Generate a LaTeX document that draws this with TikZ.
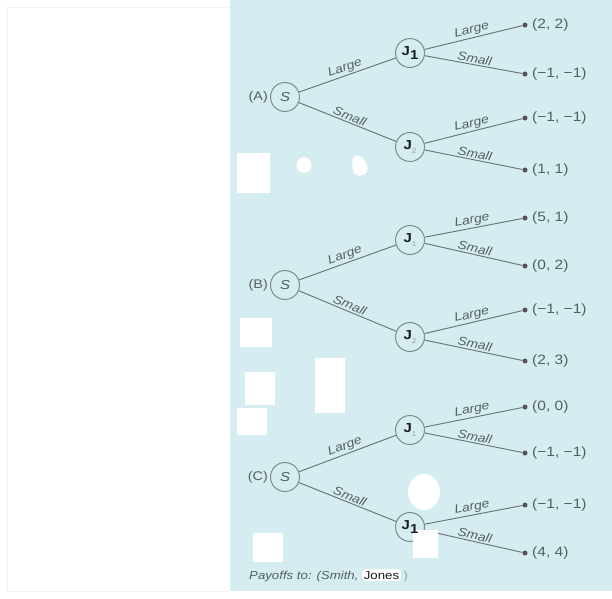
\documentclass[tikz,border=0pt]{standalone}
\usepackage{fontspec}
\setsansfont{Liberation Sans}[FakeStretch=1.15]
\renewcommand\familydefault{\sfdefault}
\definecolor{panel}{RGB}{213,236,240}
\definecolor{edgec}{RGB}{105,118,121}
\definecolor{txt}{RGB}{85,95,98}
\definecolor{dark}{RGB}{25,27,29}
\newcommand\jbig[1]{\textbf{J}\raisebox{-0.6ex}{\bfseries #1}}
\newcommand\jsml[1]{\textbf{J}\raisebox{-0.5ex}{\scriptsize\color{txt!60} #1}}
\begin{document}
\begin{tikzpicture}[x=1pt,y=-1pt,
 every node/.style={font=\sffamily},
 dec/.style={circle,draw=edgec!85,line width=1pt,minimum size=29pt,inner sep=0pt,
   font=\sffamily\fontsize{13}{15}\selectfont,text=dark},
 br/.style={draw=edgec,line width=0.95pt},
 lab/.style={font=\sffamily\itshape\fontsize{12}{14}\selectfont,text=txt,sloped,above,midway,inner sep=1.5pt},
 leaf/.style={circle,fill=dark!75,inner sep=0pt,minimum size=5pt},
 pay/.style={font=\sffamily\fontsize{13.5}{15}\selectfont,text=txt,anchor=west,inner sep=0pt},
 tag/.style={font=\sffamily\fontsize{12.5}{14}\selectfont,text=txt,anchor=east,inner sep=1pt},
 patch/.style={fill=white,draw=none}]
\useasboundingbox (0,0) rectangle (612,598);
\fill[white] (0,0) rectangle (612,598);
\fill[panel] (230,0) rectangle (612,591);
\draw[black!5] (230,7) -- (7,7) -- (7,591) -- (230,591);

% ---------- (A)
\node[dec] (As) at (285,97) {\color{txt}\itshape S};
\node[tag] (Al) at ([xshift=-1pt]As.west) {(A)};
\node[dec] (Aj1) at (410,53) {\jbig{1}};
\node[dec] (Aj2) at (410,147) {\jsml{2}};
\node[leaf] (Aa) at (525,25) {};
\node[leaf] (Ab) at (525,74) {};
\node[leaf] (Ac) at (525,118) {};
\node[leaf] (Ad) at (525,170) {};
\node[pay] (Aap) at (532,25) {(2,\ 2)};
\node[pay] (Abp) at (532,74) {(\textminus1,\ \textminus1)};
\node[pay] (Acp) at (532,118) {(\textminus1,\ \textminus1)};
\node[pay] (Adp) at (532,170) {(1,\ 1)};
\draw[br] (As) -- node[lab]{Large} (Aj1);
\draw[br] (As) -- node[lab]{Small} (Aj2);
\draw[br] (Aj1) -- node[lab]{Large} (Aa);
\draw[br] (Aj1) -- node[lab]{Small} (Ab);
\draw[br] (Aj2) -- node[lab]{Large} (Ac);
\draw[br] (Aj2) -- node[lab]{Small} (Ad);

% ---------- (B)
\node[dec] (Bs) at (285,285) {\color{txt}\itshape S};
\node[tag] (Bl) at ([xshift=-1pt]Bs.west) {(B)};
\node[dec] (Bj1) at (410,240) {\jsml{1}};
\node[dec] (Bj2) at (410,337) {\jsml{2}};
\node[leaf] (Ba) at (525,218) {};
\node[leaf] (Bb) at (525,266) {};
\node[leaf] (Bc) at (525,310) {};
\node[leaf] (Bd) at (525,361) {};
\node[pay] (Bap) at (532,218) {(5,\ 1)};
\node[pay] (Bbp) at (532,266) {(0,\ 2)};
\node[pay] (Bcp) at (532,310) {(\textminus1,\ \textminus1)};
\node[pay] (Bdp) at (532,361) {(2,\ 3)};
\draw[br] (Bs) -- node[lab]{Large} (Bj1);
\draw[br] (Bs) -- node[lab]{Small} (Bj2);
\draw[br] (Bj1) -- node[lab]{Large} (Ba);
\draw[br] (Bj1) -- node[lab]{Small} (Bb);
\draw[br] (Bj2) -- node[lab]{Large} (Bc);
\draw[br] (Bj2) -- node[lab]{Small} (Bd);

% ---------- (C)
\node[dec] (Cs) at (285,477) {\color{txt}\itshape S};
\node[tag] (Cl) at ([xshift=-1pt]Cs.west) {(C)};
\node[dec] (Cj1) at (410,430) {\jsml{1}};
\node[dec] (Cj2) at (410,527) {};
\node[leaf] (Ca) at (525,407) {};
\node[leaf] (Cb) at (525,453) {};
\node[leaf] (Cc) at (525,505) {};
\node[leaf] (Cd) at (525,553) {};
\node[pay] (Cap) at (532,407) {(0,\ 0)};
\node[pay] (Cbp) at (532,453) {(\textminus1,\ \textminus1)};
\node[pay] (Ccp) at (532,505) {(\textminus1,\ \textminus1)};
\node[pay] (Cdp) at (532,553) {(4,\ 4)};
\draw[br] (Cs) -- node[lab]{Large} (Cj1);
\draw[br] (Cs) -- node[lab]{Small} (Cj2);
\draw[br] (Cj1) -- node[lab]{Large} (Ca);
\draw[br] (Cj1) -- node[lab]{Small} (Cb);
\draw[br] (Cj2) -- node[lab]{Large} (Cc);
\draw[br] (Cj2) -- node[lab]{Small} (Cd);

% ---------- white patches
\fill[patch] (237,153) rectangle (270,193);
\fill[patch] (304,165) ellipse (7.5 and 8);
\fill[patch, rounded corners=5pt] (352,155) -- (362,156) -- (369,168) -- (365,176) -- (353,175) -- cycle;
\fill[patch] (240,318) rectangle (272,347);
\fill[patch] (245,372) rectangle (275,405);
\fill[patch] (315,358) rectangle (345,413);
\fill[patch] (237,408) rectangle (267,435);
\fill[patch] (424,492) ellipse (16 and 18);
\fill[patch] (413,530) rectangle (438,558);
\fill[patch] (253,533) rectangle (283,562);
\node[font=\sffamily\fontsize{13}{15}\selectfont,text=dark] (Cj2t) at (Cj2) {\jbig{1}};

% ---------- footer
\node[anchor=base west,inner sep=0pt,font=\sffamily\itshape\fontsize{11.5}{13}\selectfont,text=txt] (pa) at (249,579) {Payoffs to: (Smith,};
\node[anchor=base west,inner sep=2pt,fill=white,rounded corners=4pt,font=\sffamily\fontsize{11.5}{13}\selectfont,text=dark] (pj) at ([xshift=3pt]pa.base east) {Jones};
\node[anchor=base west,inner sep=0pt,font=\sffamily\fontsize{11.5}{13}\selectfont,text=txt!60] (pc) at ([xshift=2pt]pj.base east) {)};
\end{tikzpicture}
\end{document}
